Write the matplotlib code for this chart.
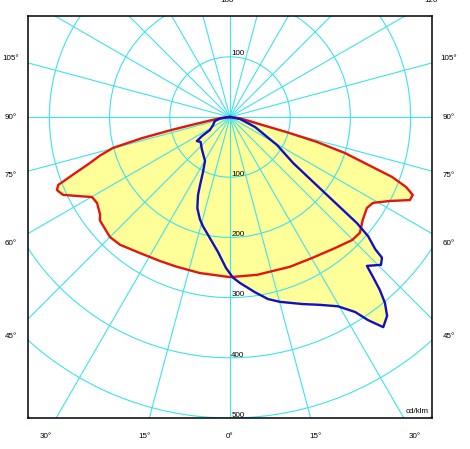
import numpy as np
import matplotlib
matplotlib.use("Agg")
import matplotlib.pyplot as plt
from matplotlib.patches import Circle

plt.rcParams["font.family"] = ["Liberation Sans", "DejaVu Sans"]

# polar diagram, angle 0 deg points down, negative = left half
RED_GAMMA = [-90, -87, -84, -80, -78.5, -77.5, -76.5, -75.2, -73.5, -71.8,
             -70, -68.4, -67.1, -65, -62.2, -59.9, -57.1, -53, -51.6, -45,
             -40.7, -33.5, -25.9, -19.5, -10.9, 0, 9.7, 21.8, 30.2, 38.7,
             44.8, 48.3, 52.2, 56.4, 59, 62.3, 65.2, 66.9, 68.3, 69.7,
             72.6, 74, 75, 76, 78, 82, 86, 90]
RED_CD = [0, 6, 15, 35, 60, 100, 150, 201, 225, 245,
          275, 307, 312, 306, 282, 265, 263, 270, 276, 282,
          280, 271, 266, 264, 264, 266, 266, 268, 271, 279,
          288, 289, 279, 273, 277, 300, 329, 330, 315, 287,
          200, 150, 100, 60, 35, 18, 6, 0]

BLUE_GAMMA = [-90, -81.5, -75.1, -64.8, -57, -55.8, -54, -49.7, -41.2, -29.6,
              -26.1, -23.8, -22.3, -19.7, -16.4, -13.9, -9.4, -5.1, -1.5, 1.1,
              3.4, 8.1, 11.8, 15.1, 21.1, 25.6, 29.7, 32.7, 34.2, 36.1,
              38.3, 39.8, 40.9, 41.8, 42.6, 45.6, 47.2, 47.7, 49.2, 50.1,
              51.3, 53.9, 59.2, 68.2, 78.7, 90]
BLUE_CD = [0, 17, 26, 31, 40, 56, 68, 64, 71, 84,
           102, 123, 140, 161, 177, 187, 204, 225, 251, 267,
           276, 294, 309, 318, 333, 346, 362, 385, 408, 432,
           421, 402, 380, 356, 336, 351, 344, 326, 303, 275,
           202, 130, 91, 45, 17, 0]

RINGS = [100, 200, 300, 400, 500, 600]
RING_LABELS = ["100", "200", "300", "400", "500"]
SIDE_ANGLES = [105, 90, 75, 60, 45]
BOTTOM_ANGLES = [-30, -15, 0, 15, 30]
UNIT = "cd/klm"

GRID = "#3ee3ea"
FILL = "#ffff99"
RED = "#e3160e"
BLUE = "#1210c0"


def to_xy(gamma, cd):
    g = np.radians(np.asarray(gamma, dtype=float))
    r = np.asarray(cd, dtype=float)
    return r * np.sin(g), -r * np.cos(g)


def draw_grid(ax):
    for r in RINGS:
        ax.add_patch(Circle((0, 0), r, fill=False, color=GRID, lw=0.8, zorder=2))
    for a in range(0, 360, 15):
        x, y = to_xy([a, a], [0, 1200])
        ax.plot(x, y, color=GRID, lw=0.8, zorder=2)


def draw_labels(ax):
    fs = 5.8
    ax.text(2, 103, RING_LABELS[0], fontsize=fs, ha="left", va="baseline", zorder=5)
    for lab in RING_LABELS:
        r = float(lab)
        ax.text(2, -r + 2, lab, fontsize=fs, ha="left", va="baseline", zorder=5)

    side = 363.8
    for a in SIDE_ANGLES:
        y = -side / np.tan(np.radians(a)) if a != 90 else 0
        for sx in (-side, side):
            ax.text(sx, y, f"{a}°", fontsize=fs, ha="center", va="center", clip_on=False)
    for a in BOTTOM_ANGLES:
        x = 530 * np.tan(np.radians(a))
        ax.text(x, -530, f"{abs(a)}°", fontsize=fs, ha="center", va="center", clip_on=False)

    # labels cut off by the top edge of the picture
    ax.text(-2, 191.5, "180°", fontsize=fs, ha="center", va="baseline", clip_on=False)
    ax.text(336, 191.5, "120°", fontsize=fs, ha="center", va="baseline", clip_on=False)

    ax.text(330.6, -491.7, UNIT, fontsize=fs, ha="right", va="baseline", zorder=5)


def main():
    fig = plt.figure(figsize=(4.70, 4.49), dpi=100)
    ax = fig.add_axes([28 / 470, 31 / 449, 404 / 470, 402 / 449])
    ax.set_xlim(-335.5, 335.5)
    ax.set_ylim(-500, 167.8)
    ax.set_xticks([])
    ax.set_yticks([])
    for s in ax.spines.values():
        s.set_linewidth(1.1)
        s.set_zorder(6)

    rx, ry = to_xy(RED_GAMMA, RED_CD)
    bx, by = to_xy(BLUE_GAMMA, BLUE_CD)
    ax.fill(rx, ry, color=FILL, lw=0, zorder=1)
    ax.fill(bx, by, color=FILL, lw=0, zorder=1)

    draw_grid(ax)

    ax.plot(rx, ry, color=RED, lw=1.7, zorder=3, solid_joinstyle="round")
    ax.plot(bx, by, color=BLUE, lw=1.7, zorder=4, solid_joinstyle="round")

    draw_labels(ax)

    fig.savefig("out.png", dpi=100)
    plt.close(fig)


if __name__ == "__main__":
    main()
